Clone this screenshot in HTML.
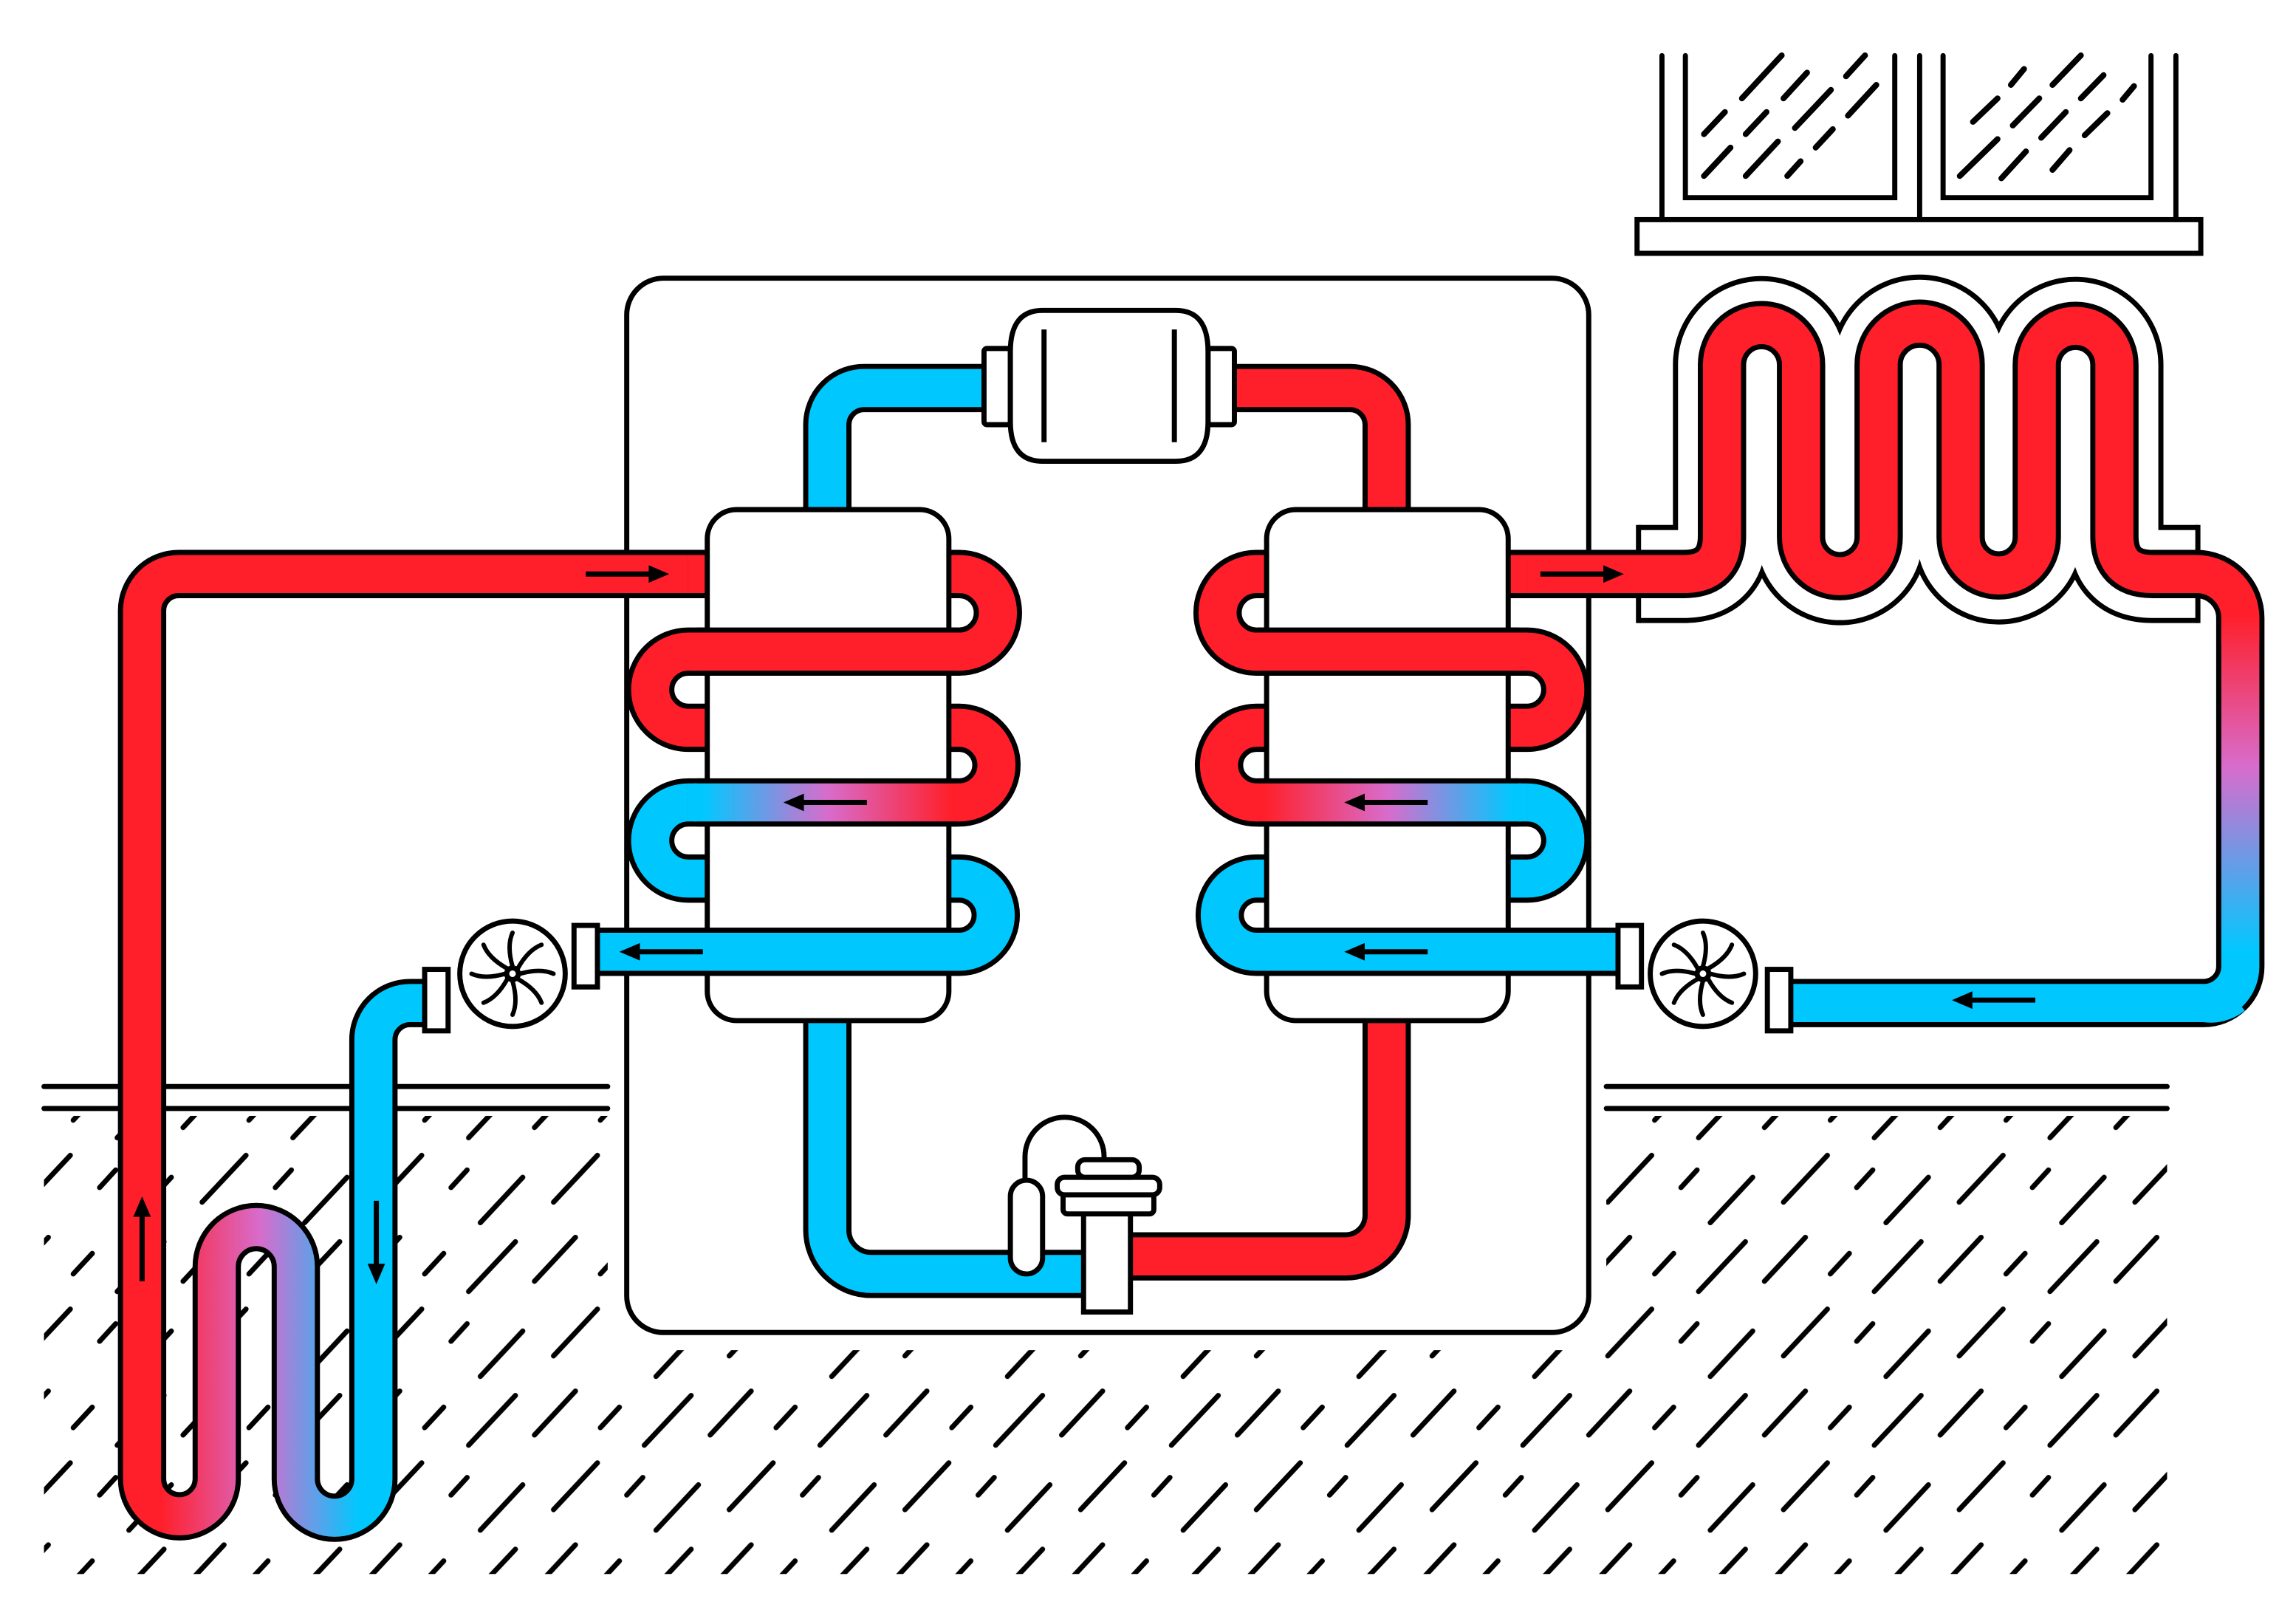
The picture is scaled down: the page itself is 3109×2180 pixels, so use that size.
<!DOCTYPE html>
<html><head><meta charset="utf-8"><style>
html,body{margin:0;padding:0;background:#fff;}
svg{display:block;}
</style></head><body>
<svg width="3109" height="2180" viewBox="0 0 1568 1099.5" xmlns="http://www.w3.org/2000/svg">
<defs>
<pattern id="hatch" width="120" height="105" patternUnits="userSpaceOnUse">
<g stroke="#000" stroke-width="3.5" stroke-linecap="round">
<line x1="5" y1="35" x2="33" y2="5"/>
<line x1="50" y1="30" x2="63" y2="16"/>
<line x1="80" y1="42" x2="112" y2="8"/>
<line x1="18" y1="86" x2="48" y2="54"/>
<line x1="68" y1="76" x2="79" y2="64"/>
<line x1="88" y1="100" x2="117" y2="69"/>
</g>
</pattern>
<linearGradient id="gL" gradientUnits="userSpaceOnUse" x1="480" y1="0" x2="650" y2="0">
<stop offset="0" stop-color="#00c8ff"/><stop offset="0.5" stop-color="#d86ccc"/><stop offset="1" stop-color="#ff1f2a"/>
</linearGradient>
<linearGradient id="gG" gradientUnits="userSpaceOnUse" x1="110" y1="0" x2="245" y2="0">
<stop offset="0" stop-color="#ff1f2a"/><stop offset="0.5" stop-color="#d86ccc"/><stop offset="1" stop-color="#00c8ff"/>
</linearGradient>
<linearGradient id="gR" gradientUnits="userSpaceOnUse" x1="0" y1="420" x2="0" y2="650">
<stop offset="0" stop-color="#ff1f2a"/><stop offset="0.45" stop-color="#d86ccc"/><stop offset="1" stop-color="#00c8ff"/>
</linearGradient>
<clipPath id="groundClip">
<path d="M30,762 H415 V922 H1097 V762 H1480 V1075 H30 Z"/>
</clipPath>
</defs>

<!-- ground -->
<rect x="0" y="0" width="1568" height="1100" fill="url(#hatch)" clip-path="url(#groundClip)"/>
<g stroke="#000" stroke-width="3.5" stroke-linecap="round">
<line x1="30" y1="742" x2="415" y2="742"/><line x1="30" y1="757" x2="415" y2="757"/>
<line x1="1097" y1="742" x2="1480" y2="742"/><line x1="1097" y1="757" x2="1480" y2="757"/>
</g>

<!-- window -->
<g stroke="#000" stroke-width="3.5" fill="none" stroke-linecap="round">
<path d="M1135,38 V150 M1311,38 V150 M1486,38 V150"/>
<path d="M1151,38 V135 H1294 V38 M1327,38 V135 H1469 V38"/>
<rect x="1118" y="150" width="385" height="23" fill="#fff"/>
<g stroke-width="4">
<path d="M1189.6,67.2 L1216.8,37.8 M1218,67.2 L1234.1,49.6 M1260.7,52.1 L1273.7,37.8 M1163.7,91.6 L1178,76.5 M1192.2,91.6 L1206.4,76.5 M1225.8,87.4 L1250.4,61.4 M1262,79 L1281.4,58 M1163.7,120.2 L1181.8,100.8 M1192.2,120.2 L1214.2,96.6 M1240,100.8 L1251.7,88.2 M1220.6,120.2 L1229.7,110.1"/>
<path d="M1373.3,58 L1382.3,47.1 M1401.7,58 L1421.1,37.8 M1421.1,67.2 L1436.6,51.3 M1449.6,68.1 L1457.4,58.8 M1347.4,83.2 L1364.2,67.2 M1374.6,85.7 L1392.7,67.2 M1394,94.1 L1410.8,76.5 M1423.7,92.4 L1439.2,77.3 M1338.4,120.2 L1364.2,95 M1366.8,121.8 L1383.6,103.4 M1401.7,116 L1413.4,102.5"/>
</g>
</g>

<!-- main box -->
<rect x="428" y="190" width="657" height="720" rx="25" fill="#fff" stroke="#000" stroke-width="3.5"/>

<!-- radiator outline -->
<path d="M1119,392 H1150 Q1176,392 1176,366 V249 A27,27 0 0 1 1230,249 V367 A26.5,26.5 0 0 0 1283,367 V249 A28,28 0 0 1 1339,249 V367 A26,26 0 0 0 1391,367 V249 A26.5,26.5 0 0 1 1444,249 V366 Q1444,392 1470,392 H1501" fill="none" stroke="#000" stroke-width="67" stroke-linejoin="round"/>
<path d="M1119,392 H1150 Q1176,392 1176,366 V249 A27,27 0 0 1 1230,249 V367 A26.5,26.5 0 0 0 1283,367 V249 A28,28 0 0 1 1339,249 V367 A26,26 0 0 0 1391,367 V249 A26.5,26.5 0 0 1 1444,249 V366 Q1444,392 1470,392 H1501" fill="none" stroke="#fff" stroke-width="60" stroke-linejoin="round"/>
<path d="M1119,358.5 V425.5 M1501,358.5 V425.5" stroke="#000" stroke-width="3.5"/>

<g fill="none" stroke-linejoin="round">
<!-- radiator pipe -->
<path d="M1030,392 H1150 Q1176,392 1176,366 V249 A27,27 0 0 1 1230,249 V367 A26.5,26.5 0 0 0 1283,367 V249 A28,28 0 0 1 1339,249 V367 A26,26 0 0 0 1391,367 V249 A26.5,26.5 0 0 1 1444,249 V366 Q1444,392 1470,392 H1500 A30,30 0 0 1 1530,422 V660 A25,25 0 0 1 1505,685 H1215" stroke="#000" stroke-width="33"/>
<path d="M1030,392 H1150 Q1176,392 1176,366 V249 A27,27 0 0 1 1230,249 V367 A26.5,26.5 0 0 0 1283,367 V249 A28,28 0 0 1 1339,249 V367 A26,26 0 0 0 1391,367 V249 A26.5,26.5 0 0 1 1444,249 V366 Q1444,392 1470,392 H1500 A30,30 0 0 1 1530,422 V440" stroke="#ff1f2a" stroke-width="26"/>
<path d="M1530,420 V660 A25,25 0 0 1 1505,685 H1213" stroke="url(#gR)" stroke-width="26"/>
<path d="M1525,680 A25,25 0 0 1 1505,685 H1213" stroke="#00c8ff" stroke-width="26"/>

<!-- top loop -->
<path d="M565,350 V290 A25,25 0 0 1 590,265 H675" stroke="#000" stroke-width="33"/>
<path d="M565,350 V290 A25,25 0 0 1 590,265 H675" stroke="#00c8ff" stroke-width="26"/>
<path d="M840,265 H922 A25,25 0 0 1 947,290 V350" stroke="#000" stroke-width="33"/>
<path d="M840,265 H922 A25,25 0 0 1 947,290 V350" stroke="#ff1f2a" stroke-width="26"/>

<!-- bottom loop -->
<path d="M565,697 V840 A30,30 0 0 0 595,870 H748" stroke="#000" stroke-width="33"/>
<path d="M565,697 V840 A30,30 0 0 0 595,870 H748" stroke="#00c8ff" stroke-width="26"/>
<path d="M947,697 V830 A28,28 0 0 1 919,858 H770" stroke="#000" stroke-width="33"/>
<path d="M947,697 V830 A28,28 0 0 1 919,858 H770" stroke="#ff1f2a" stroke-width="26"/>

<!-- ground loop -->
<path d="M483,392 H122 A25,25 0 0 0 97,417 V1010 A25.5,25.5 0 0 0 148,1010 V865 A27,27 0 0 1 202,865 V1010 A26.5,26.5 0 0 0 255,1010 V710 A25,25 0 0 1 280,685 H298" stroke="#000" stroke-width="33"/>
<path d="M483,392 H122 A25,25 0 0 0 97,417 V1000" stroke="#ff1f2a" stroke-width="26"/>
<path d="M97,990 V1010 A25.5,25.5 0 0 0 148,1010 V865 A27,27 0 0 1 202,865 V1010 A26.5,26.5 0 0 0 255,1010 V710 A25,25 0 0 1 280,685 H298" stroke="url(#gG)" stroke-width="26"/>

<!-- right HX outlet to pump -->
<path d="M1000,650 H1112" stroke="#000" stroke-width="33"/>
<path d="M1000,650 H1112" stroke="#00c8ff" stroke-width="26"/>
</g>

<!-- HX left + mirrored right -->
<g id="hx">
<g fill="none">
<path d="M470,392 H655 A26.5,26.5 0 0 1 655,445 H470 A26,26 0 0 0 470,497 H655 A25.5,25.5 0 0 1 655,548 H470 A26,26 0 0 0 470,600 H655 A25,25 0 0 1 655,650 H400" stroke="#000" stroke-width="33"/>
<path d="M470,392 H655 A26.5,26.5 0 0 1 655,445 H470 A26,26 0 0 0 470,497 H655 A25.5,25.5 0 0 1 655,548" stroke="#ff1f2a" stroke-width="26"/>
<path d="M470,548 A26,26 0 0 0 470,600 H655 A25,25 0 0 1 655,650 H400" stroke="#00c8ff" stroke-width="26"/>
<path d="M470,548 H655" stroke="url(#gL)" stroke-width="26"/>
</g>
<rect x="483" y="348" width="165" height="349" rx="20" fill="#fff" stroke="#000" stroke-width="3.5"/>
<g fill="none">
<path d="M476,445 H654 M476,548 H654 M476,650 H654" stroke="#000" stroke-width="33"/>
<path d="M474,445 H656" stroke="#ff1f2a" stroke-width="26"/>
<path d="M474,548 H656" stroke="url(#gL)" stroke-width="26"/>
<path d="M470,650 H656" stroke="#00c8ff" stroke-width="26"/>
</g>
</g>
<use href="#hx" transform="translate(1513,0) scale(-1,1)"/>

<!-- compressor -->
<g stroke="#000" stroke-width="3.5" fill="#fff">
<rect x="672" y="238" width="18" height="52" rx="2"/>
<rect x="825" y="238" width="18" height="52" rx="2"/>
<path d="M712,212 H803 Q825,212 825,240 V288 Q825,315 803,315 H712 Q690,315 690,288 V240 Q690,212 712,212 Z"/>
<path d="M713,225 V302 M802,225 V302" fill="none"/>
</g>

<!-- expansion valve -->
<g stroke="#000" stroke-width="3.5" fill="#fff">
<path d="M700,812 V790 A27,27 0 0 1 754,790 V808" fill="none"/>
<rect x="690" y="806" width="22" height="64" rx="11"/>
<rect x="740" y="826" width="32" height="70"/>
<rect x="726" y="815" width="62" height="14" rx="3"/>
<rect x="722" y="804" width="70" height="12" rx="5"/>
<rect x="736" y="792" width="42" height="12" rx="5"/>
</g>

<!-- pumps -->
<g id="pumpL" stroke="#000" stroke-width="3.5" fill="#fff">
<rect x="392" y="632" width="16" height="42"/>
<rect x="290" y="662" width="16" height="42"/>
<circle cx="350" cy="665" r="36"/>
<g fill="none" stroke-width="3" stroke-linecap="round">
<path d="M350,660 Q346,646 350,637" transform="rotate(0 350 665)"/>
<path d="M350,660 Q346,646 350,637" transform="rotate(45 350 665)"/>
<path d="M350,660 Q346,646 350,637" transform="rotate(90 350 665)"/>
<path d="M350,660 Q346,646 350,637" transform="rotate(135 350 665)"/>
<path d="M350,660 Q346,646 350,637" transform="rotate(180 350 665)"/>
<path d="M350,660 Q346,646 350,637" transform="rotate(225 350 665)"/>
<path d="M350,660 Q346,646 350,637" transform="rotate(270 350 665)"/>
<path d="M350,660 Q346,646 350,637" transform="rotate(315 350 665)"/>
</g>
<circle cx="350" cy="665" r="4"/>
</g>
<use href="#pumpL" transform="translate(1513,0) scale(-1,1)"/>

<!-- arrows -->
<g stroke="#000" stroke-width="3.5" fill="#000">
<line x1="400" y1="392" x2="446" y2="392"/><path d="M457,392 L443,386 L443,398 Z" stroke="none"/>
<line x1="1052" y1="392" x2="1098" y2="392"/><path d="M1109,392 L1095,386 L1095,398 Z" stroke="none"/>
<line x1="592" y1="548" x2="546" y2="548"/><path d="M535,548 L549,542 L549,554 Z" stroke="none"/>
<line x1="480" y1="650" x2="434" y2="650"/><path d="M423,650 L437,644 L437,656 Z" stroke="none"/>
<line x1="975" y1="548" x2="929" y2="548"/><path d="M918,548 L932,542 L932,554 Z" stroke="none"/>
<line x1="975" y1="650" x2="929" y2="650"/><path d="M918,650 L932,644 L932,656 Z" stroke="none"/>
<line x1="1390" y1="683" x2="1344" y2="683"/><path d="M1333,683 L1347,677 L1347,689 Z" stroke="none"/>
<line x1="97" y1="875" x2="97" y2="828"/><path d="M97,817 L91,831 L103,831 Z" stroke="none"/>
<line x1="257" y1="820" x2="257" y2="866"/><path d="M257,877 L251,863 L263,863 Z" stroke="none"/>
</g>
</svg>
</body></html>
